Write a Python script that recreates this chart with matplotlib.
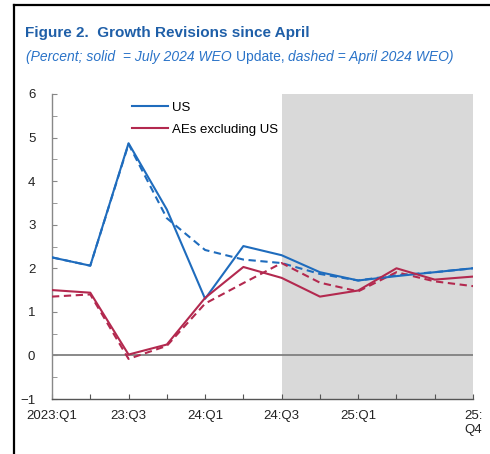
import numpy as np
import matplotlib.pyplot as plt
from matplotlib.lines import Line2D

plt.rcParams['font.family'] = ['Liberation Sans', 'DejaVu Sans']

quarters = ['2023:Q1', '23:Q2', '23:Q3', '23:Q4', '24:Q1', '24:Q2',
            '24:Q3', '24:Q4', '25:Q1', '25:Q2', '25:Q3', '25:Q4']
tick_labels = ['2023:Q1', '', '23:Q3', '', '24:Q1', '', '24:Q3', '', '25:Q1', '', '', '25:\nQ4']

us_july = [2.25, 2.06, 4.87, 3.35, 1.30, 2.51, 2.30, 1.91, 1.72, 1.82, 1.91, 2.00]
us_april = [2.25, 2.06, 4.85, 3.15, 2.42, 2.20, 2.12, 1.87, 1.72, 1.84, 1.91, 2.00]
aes_july = [1.50, 1.44, 0.02, 0.25, 1.32, 2.03, 1.78, 1.35, 1.49, 2.00, 1.74, 1.81]
aes_april = [1.35, 1.40, -0.08, 0.22, 1.19, 1.66, 2.12, 1.67, 1.47, 1.91, 1.70, 1.59]

proj_start = 6  # 24:Q3 onward shaded

blue = '#1f6cbd'
red = '#b3294f'
x = np.arange(len(quarters))

fig = plt.figure(figsize=(4.9, 4.54), dpi=100)
ax = fig.add_axes([52 / 490, 1 - 399 / 454, 421 / 490, 305 / 454])

ax.axvspan(proj_start, len(quarters) - 1, color='#d9d9d9', lw=0, zorder=0)
ax.axhline(0, color='#808080', lw=1.3, zorder=1)

dash = (0, (3.5, 2.2))
ax.plot(x, us_april, color=blue, lw=1.5, ls=dash, zorder=3)
ax.plot(x, aes_april, color=red, lw=1.5, ls=dash, zorder=3)
ax.plot(x, us_july, color=blue, lw=1.5, zorder=4)
ax.plot(x, aes_july, color=red, lw=1.5, zorder=4)

ax.set_xlim(0, len(quarters) - 1)
ax.set_ylim(-1, 6)
ax.set_xticks(x)
ax.set_xticklabels(tick_labels, fontsize=9.5, color='#222222', va='top')
ax.set_yticks(range(-1, 7))
ax.set_yticklabels(['\u22121'] + [str(v) for v in range(0, 7)], fontsize=9.5, color='#222222')
ax.set_yticks(np.arange(-1, 6.01, 0.5), minor=True)
ax.tick_params(axis='x', direction='in', length=3.5, color='#555555', pad=8)
ax.tick_params(axis='y', which='both', direction='in', length=3.5, color='#888888', pad=12)
for s in ['top', 'right']:
    ax.spines[s].set_visible(False)
for s in ['left', 'bottom']:
    ax.spines[s].set_color('#888888')
    ax.spines[s].set_linewidth(1.0)
ax.spines['bottom'].set_color('#555555')

handles = [Line2D([], [], color=blue, lw=1.5), Line2D([], [], color=red, lw=1.5)]
ax.legend(handles, ['US', 'AEs excluding US'], loc='upper left',
          bbox_to_anchor=(0.19, 0.976), frameon=False, fontsize=9.5,
          borderpad=0, borderaxespad=0,
          handlelength=2.7, handletextpad=0.3, labelspacing=0.75)

fig.text(25 / 490, 1 - 33 / 454, 'Figure 2.  Growth Revisions since April',
         fontsize=11, fontweight='bold', color='#1f5fa8', va='center')

# subtitle: italic except "Update,"
sub_parts = [('(Percent; solid  = July 2024 WEO ', 'italic'),
             ('Update, ', 'normal'),
             ('dashed = April 2024 WEO)', 'italic')]
renderer = fig.canvas.get_renderer()
xpos = 26 / 490
for txt, st in sub_parts:
    t = fig.text(xpos, 1 - 57 / 454, txt, fontsize=10, style=st,
                 color='#2a73c8', va='center')
    bb = t.get_window_extent(renderer=renderer)
    xpos += bb.width / fig.bbox.width

# frame lines at top and left
fig.add_artist(Line2D([14 / 490, 1], [1 - 5 / 454, 1 - 5 / 454], color='black', lw=1.6))
fig.add_artist(Line2D([14 / 490, 14 / 490], [0, 1 - 5 / 454], color='black', lw=1.6))

fig.savefig('out.png', dpi=100)
